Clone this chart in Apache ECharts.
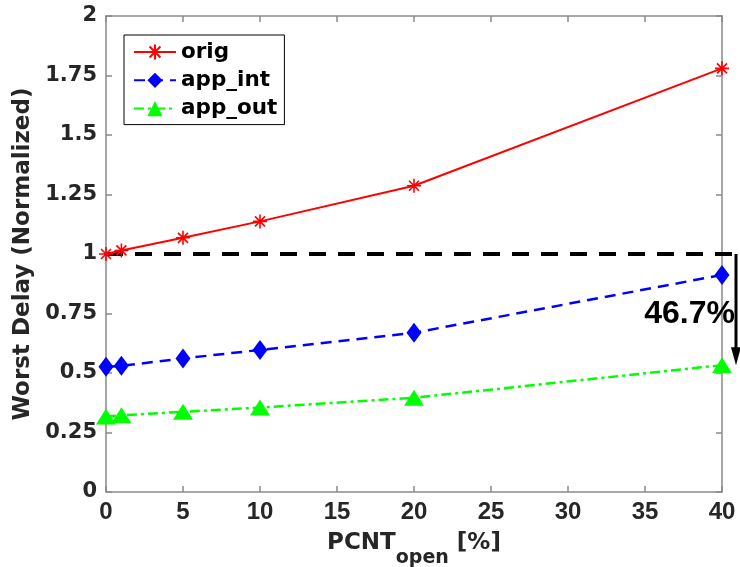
<!DOCTYPE html>
<html>
<head>
<meta charset="utf-8">
<script src="https://cdn.jsdelivr.net/npm/echarts@6/dist/echarts.min.js"></script>
<style>
  html, body { margin: 0; padding: 0; background: #ffffff; }
  #chart { width: 740px; height: 567px; }
</style>
</head>
<body>
<div id="chart"></div>
<script>
// Share of open cells (x) and normalized worst delay for each variant
const pcntOpen = [0, 1, 5, 10, 20, 40];
const origDelay = [1.0, 1.015, 1.068, 1.137, 1.287, 1.78];
const appIntDelay = [0.526, 0.53, 0.561, 0.597, 0.669, 0.912];
const appOutDelay = [0.317, 0.322, 0.337, 0.355, 0.396, 0.533];

// Reference level and the reduction called out at the right edge
const baselineLevel = 1;
const reductionPct = 46.7;

// Axis ranges
const xRange = [0, 40];
const xStep = 5;
const yRange = [0, 2];
const yStep = 0.25;

const FONT = 'DejaVu Sans';
const FONT_NARROW = 'Liberation Sans';
const AXIS_GRAY = '#8a8a8a';
const LABEL_COLOR = '#262626';

const toPoints = (ys) => pcntOpen.map((x, i) => [x, ys[i]]);
const reducedLevel = baselineLevel * (1 - reductionPct / 100);

// MATLAB-style asterisk marker: a plus and a cross overlaid
const asterisk = 'path://M7,0L7,14M0,7L14,7M2,2L12,12M2,12L12,2';

const chart = echarts.init(document.getElementById('chart'), null, { renderer: 'canvas' });

const axisLineStyle = { color: AXIS_GRAY, width: 1.5 };

const xBase = {
  type: 'value', min: xRange[0], max: xRange[1], interval: xStep,
  axisLine: { show: true, onZero: false, lineStyle: axisLineStyle },
  axisTick: { show: true, inside: true, length: 6, lineStyle: axisLineStyle },
  splitLine: { show: false }
};
const yBase = {
  type: 'value', min: yRange[0], max: yRange[1], interval: yStep,
  axisLine: { show: true, onZero: false, lineStyle: axisLineStyle },
  axisTick: { show: true, inside: true, length: 6, lineStyle: axisLineStyle },
  splitLine: { show: false }
};

const option = {
  animation: false,
  backgroundColor: '#ffffff',
  grid: { left: 106, right: 18, top: 16, bottom: 75, outerBoundsMode: 'none', containLabel: false },
  legend: {
    data: ['orig', 'app_int', 'app_out'],
    orient: 'vertical',
    left: 124, top: 35,
    padding: [6, 7, 5, 9],
    itemGap: 6.3,
    itemWidth: 42, itemHeight: 19,
    backgroundColor: '#ffffff',
    borderColor: '#000000', borderWidth: 1,
    textStyle: { fontFamily: FONT, fontWeight: 'bold', fontSize: 21.5, lineHeight: 22, color: '#000000' }
  },
  xAxis: [
    Object.assign({}, xBase, {
      position: 'bottom',
      axisLabel: { fontFamily: FONT_NARROW, fontWeight: 'bold', fontSize: 24, color: LABEL_COLOR, margin: 8 },
      name: '{a|PCNT}{s|open}{b| [%]}',
      nameLocation: 'middle',
      nameGap: 40,
      nameTextStyle: {
        rich: {
          a: { fontFamily: FONT, fontWeight: 'bold', fontSize: 23, color: LABEL_COLOR, lineHeight: 36, verticalAlign: 'top' },
          b: { fontFamily: FONT, fontWeight: 'bold', fontSize: 23, color: LABEL_COLOR, lineHeight: 36, verticalAlign: 'top' },
          s: { fontFamily: FONT, fontWeight: 'bold', fontSize: 19, color: LABEL_COLOR, lineHeight: 36, verticalAlign: 'bottom' }
        }
      }
    }),
    Object.assign({}, xBase, { position: 'top', axisLabel: { show: false } })
  ],
  yAxis: [
    Object.assign({}, yBase, {
      position: 'left',
      axisLabel: { fontFamily: FONT, fontWeight: 'bold', fontSize: 21, color: LABEL_COLOR, margin: 9 },
      name: 'Worst Delay (Normalized)',
      nameLocation: 'middle',
      nameGap: 62,
      nameTextStyle: { fontFamily: FONT, fontWeight: 'bold', fontSize: 23, color: LABEL_COLOR }
    }),
    Object.assign({}, yBase, { position: 'right', axisLabel: { show: false } })
  ],
  series: [
    {
      // dashed reference level, running a little past the last sample
      type: 'custom',
      coordinateSystem: 'cartesian2d',
      silent: true, clip: false, z: 1,
      data: [[pcntOpen[0], baselineLevel, pcntOpen[pcntOpen.length - 1]]],
      renderItem: (params, api) => {
        const a = api.coord([api.value(0), api.value(1)]);
        const b = api.coord([api.value(2), api.value(1)]);
        return {
          type: 'line',
          shape: { x1: a[0], y1: a[1], x2: b[0] + 16, y2: b[1] },
          style: { stroke: '#000000', lineWidth: 4, lineDash: [17, 12] }
        };
      }
    },
    {
      name: 'orig', type: 'line', z: 4,
      data: toPoints(origDelay),
      symbol: asterisk, symbolSize: 14,
      itemStyle: { color: '#ff0000', borderColor: '#ff0000', borderWidth: 1.6 },
      lineStyle: { color: '#ff0000', width: 2 }
    },
    {
      name: 'app_int', type: 'line', z: 3,
      data: toPoints(appIntDelay),
      symbol: 'diamond', symbolSize: [15, 20],
      itemStyle: { color: '#0000ff' },
      lineStyle: { color: '#0000ff', width: 2.5, type: [11, 7] }
    },
    {
      name: 'app_out', type: 'line', z: 3,
      data: toPoints(appOutDelay),
      symbol: 'triangle', symbolSize: [20, 16],
      itemStyle: { color: '#00ff00' },
      lineStyle: { color: '#00ff00', width: 2.5, type: [10, 4, 3, 4] }
    },
    {
      // reduction arrow from the reference level down to the reduced level
      type: 'custom',
      coordinateSystem: 'cartesian2d',
      silent: true, clip: false, z: 5,
      data: [[pcntOpen[pcntOpen.length - 1], baselineLevel, reducedLevel]],
      renderItem: (params, api) => {
        const top = api.coord([api.value(0), api.value(1)]);
        const bot = api.coord([api.value(0), api.value(2)]);
        const mid = api.coord([api.value(0), (api.value(1) + api.value(2)) / 2]);
        const x = top[0] + 14;
        const headLen = 18, headHalf = 5;
        return {
          type: 'group',
          children: [
            {
              type: 'line',
              shape: { x1: x, y1: top[1], x2: x, y2: bot[1] - headLen + 2 },
              style: { stroke: '#000000', lineWidth: 3 }
            },
            {
              type: 'polygon',
              shape: { points: [[x - headHalf, bot[1] - headLen], [x + headHalf, bot[1] - headLen], [x, bot[1]]] },
              style: { fill: '#000000' }
            },
            {
              type: 'text',
              x: x - 1, y: mid[1] + 5,
              style: {
                text: reductionPct.toFixed(1) + '%',
                fontFamily: FONT_NARROW, fontWeight: 'bold', fontSize: 32,
                fill: '#000000', align: 'right', verticalAlign: 'middle'
              }
            }
          ]
        };
      }
    }
  ]
};

chart.setOption(option);
</script>
</body>
</html>
